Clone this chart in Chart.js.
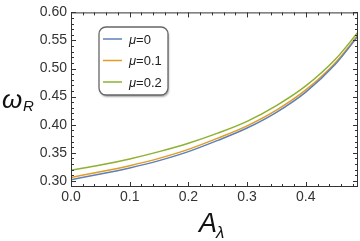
<!DOCTYPE html>
<html>
<head>
<meta charset="utf-8">
<script src="https://cdn.jsdelivr.net/npm/chart.js@4.4.1/dist/chart.umd.min.js"></script>
<style>
  html, body { margin: 0; padding: 0; background: #fff; }
  #wrap { width: 360px; height: 241px; }
</style>
</head>
<body>
<div id="wrap"><canvas id="omegaChart" width="360" height="241"></canvas></div>
<script>
// A_lambda samples
const aLambda = [0, 0.05, 0.10, 0.15, 0.20, 0.25, 0.30, 0.35, 0.40, 0.45, 0.49]
// omega_R for mu = 0, 0.1, 0.2
const mu0  = [0.302, 0.312, 0.323, 0.336, 0.352, 0.372, 0.394, 0.422, 0.458, 0.507, 0.559]
const mu01 = [0.306, 0.316, 0.327, 0.340, 0.356, 0.376, 0.398, 0.426, 0.462, 0.510, 0.561]
const mu02 = [0.319, 0.328, 0.339, 0.352, 0.367, 0.385, 0.406, 0.434, 0.469, 0.516, 0.566]
const seriesLabels = ["0", "0.1", "0.2"]
const xTicks = [0, 0.1, 0.2, 0.3, 0.4]
const yTicks = [0.30, 0.35, 0.40, 0.45, 0.50, 0.55, 0.60]

const colors = ["#5e81b5", "#e19c24", "#8fb032"]
const fontFam = "'Liberation Sans', Arial, sans-serif"

const toPoints = (ys) => aLambda.map((x, i) => ({ x: x, y: ys[i] }))

// frame with inward major/minor ticks, axis titles and legend box
const framePlugin = {
  id: 'mmaFrame',
  afterDraw: (chart) => {
    const { ctx, chartArea: a, scales } = chart
    const xs = scales.x, ys = scales.y
    ctx.save()
    ctx.strokeStyle = "#333"
    ctx.lineWidth = 1
    ctx.strokeRect(a.left + 0.5, a.top + 0.5, a.right - a.left - 1, a.bottom - a.top - 1)

    ctx.beginPath()
    for (let i = 0; i <= 24; i++) {
      const v = i * 0.02
      if (v > xs.max + 1e-9) break
      const px = Math.round(xs.getPixelForValue(v)) + 0.5
      const len = (i % 5 === 0) ? 5 : 3
      ctx.moveTo(px, a.bottom); ctx.lineTo(px, a.bottom - len)
      ctx.moveTo(px, a.top); ctx.lineTo(px, a.top + len)
    }
    for (let i = 29; i <= 60; i++) {
      const v = i * 0.01
      if (v < ys.min - 1e-9) continue
      const py = Math.round(ys.getPixelForValue(v)) + 0.5
      const len = (i % 5 === 0) ? 5 : 3
      ctx.moveTo(a.left, py); ctx.lineTo(a.left + len, py)
      ctx.moveTo(a.right, py); ctx.lineTo(a.right - len, py)
    }
    ctx.stroke()

    // axis titles
    ctx.fillStyle = "#111"
    ctx.textBaseline = "alphabetic"
    ctx.textAlign = "left"
    ctx.font = "italic 26px " + fontFam
    ctx.fillText("ω", 2, 108)
    ctx.font = "italic 15px " + fontFam
    ctx.fillText("R", 23, 111)
    ctx.font = "italic 27px " + fontFam
    ctx.fillText("A", 199, 232)
    ctx.font = "italic 17px " + fontFam
    ctx.fillText("λ", 216, 238)

    // legend
    const lx = 99, ly = 27, lw = 69, lh = 68
    ctx.shadowColor = "rgba(0,0,0,0.35)"
    ctx.shadowOffsetX = 1
    ctx.shadowOffsetY = 2
    ctx.shadowBlur = 2
    ctx.fillStyle = "#fff"
    ctx.beginPath()
    ctx.roundRect(lx, ly, lw, lh, 7)
    ctx.fill()
    ctx.shadowColor = "transparent"
    ctx.strokeStyle = "#666"
    ctx.lineWidth = 1.3
    ctx.stroke()
    chart.data.datasets.forEach((ds, i) => {
      const yy = 39 + i * 21.5
      ctx.strokeStyle = ds.borderColor
      ctx.lineWidth = 1.5
      ctx.beginPath()
      ctx.moveTo(103, yy); ctx.lineTo(122, yy)
      ctx.stroke()
      ctx.fillStyle = "#222"
      ctx.textBaseline = "middle"
      ctx.font = "italic 13px " + fontFam
      ctx.fillText("μ", 129, yy + 1)
      const w = ctx.measureText("μ").width
      ctx.font = "13px " + fontFam
      ctx.fillText("=" + seriesLabels[i], 129 + w, yy + 1)
    })
    ctx.restore()
  }
}

new Chart(document.getElementById("omegaChart"), {
  type: "line",
  data: {
    datasets: [
      { label: "μ=" + seriesLabels[0], data: toPoints(mu0), borderColor: colors[0] },
      { label: "μ=" + seriesLabels[1], data: toPoints(mu01), borderColor: colors[1] },
      { label: "μ=" + seriesLabels[2], data: toPoints(mu02), borderColor: colors[2] },
    ]
  },
  options: {
    responsive: false,
    animation: false,
    datasets: { line: { borderWidth: 1.5, pointRadius: 0, cubicInterpolationMode: 'monotone', fill: false } },
    layout: { padding: { top: 9, right: 2, left: 0, bottom: 0 } },
    plugins: { legend: { display: false }, tooltip: { enabled: false } },
    scales: {
      x: {
        type: "linear", min: 0, max: 0.489,
        afterBuildTicks: (s) => { s.ticks = xTicks.map(v => ({ value: v })) },
        afterFit: (s) => { s.height = 54 },
        grid: { display: false, drawTicks: false },
        border: { display: false },
        ticks: { color: "#333", font: { family: fontFam, size: 14 }, padding: 2, maxRotation: 0,
                 callback: (v) => v.toFixed(1) }
      },
      y: {
        type: "linear", min: 0.289, max: 0.6,
        afterBuildTicks: (s) => { s.ticks = yTicks.map(v => ({ value: v })) },
        afterFit: (s) => { s.width = 71 },
        grid: { display: false, drawTicks: false },
        border: { display: false },
        ticks: { color: "#333", font: { family: fontFam, size: 14 }, padding: 4,
                 callback: (v) => v.toFixed(2) }
      }
    }
  },
  plugins: [framePlugin]
})
</script>
</body>
</html>
